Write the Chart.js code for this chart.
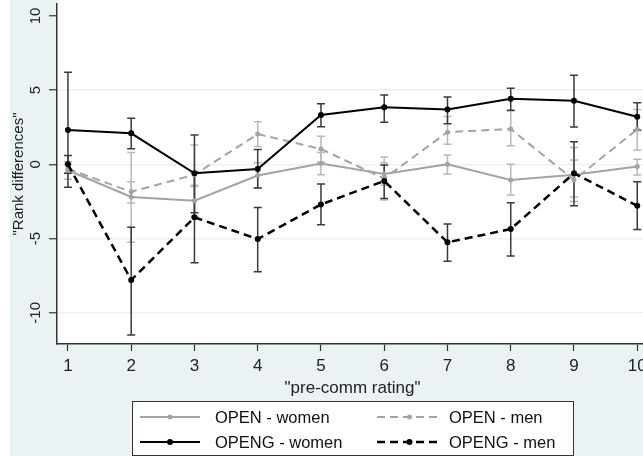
<!DOCTYPE html>
<html>
<head>
<meta charset="utf-8">
<script src="https://cdn.jsdelivr.net/npm/chart.js@4.4.1/dist/chart.umd.min.js"></script>
<style>
  html, body { margin: 0; padding: 0; background: #fff; overflow: hidden; }
  #wrap { position: relative; width: 643px; height: 456px; overflow: hidden; }
  canvas { position: absolute; left: 0; top: 0; }
</style>
</head>
<body>
<div id="wrap"><canvas id="chart" width="652" height="456"></canvas></div>
<script>
// pre-comm rating categories
const ratings = [1, 2, 3, 4, 5, 6, 7, 8, 9, 10];
const yTickValues = [-10, -5, 0, 5, 10];

// OPEN - women
const openWomen   = [-0.4, -2.2, -2.45, -0.75, 0.05, -0.65, 0.0, -1.05, -0.7, -0.15];
const openWomenLo = [-1.0, -5.25, -3.5, -1.6, -0.7, -1.4, -0.67, -2.07, -2.2, -0.72];
const openWomenHi = [0.2, 0.8, -1.4, 0.1, 0.8, 0.1, 0.63, 0.0, 1.14, 0.34];

// OPEN - men
const openMen   = [-0.3, -1.85, -0.7, 2.04, 1.03, -0.95, 2.17, 2.38, -1.05, 2.36];
const openMenLo = [-0.6, -2.6, -1.5, 1.2, 0.15, -2.4, 1.35, 1.25, -2.5, 0.96];
const openMenHi = [0.0, -1.17, 1.3, 2.87, 1.9, 0.5, 3.23, 3.59, 0.3, 3.7];

// OPENG - women
const opengWomen   = [2.31, 2.09, -0.6, -0.32, 3.32, 3.84, 3.7, 4.42, 4.28, 3.2];
const opengWomenLo = [-1.55, 1.05, -3.26, -1.6, 2.53, 2.83, 2.73, 3.64, 2.51, 2.3];
const opengWomenHi = [6.2, 3.1, 1.97, 1.0, 4.08, 4.67, 4.53, 5.12, 6.0, 4.15];

// OPENG - men
const opengMen   = [0.0, -7.79, -3.57, -5.03, -2.7, -1.12, -5.25, -4.36, -0.6, -2.79];
const opengMenLo = [-0.6, -11.5, -6.63, -7.23, -4.07, -2.3, -6.53, -6.18, -2.79, -4.38];
const opengMenHi = [0.6, -4.24, -0.5, -2.9, -1.33, -0.05, -4.02, -2.59, 1.52, -1.17];

const FONT = 'Liberation Sans, Arial, sans-serif';
const BG = '#eaf2f3';

function pts(vals) {
  return ratings.map((r, i) => ({ x: r, y: vals[i] }));
}

function series(label, vals, lo, hi, color, errColor, dash, width, radius, order) {
  return {
    label: label,
    data: pts(vals),
    errLo: lo,
    errHi: hi,
    errColor: errColor,
    borderColor: color,
    backgroundColor: color,
    pointBackgroundColor: color,
    pointBorderColor: color,
    pointRadius: radius,
    pointBorderWidth: 0,
    borderWidth: width,
    borderDash: dash,
    tension: 0,
    fill: false,
    order: order
  };
}

const bgPlugin = {
  id: 'bg',
  beforeDraw(chart) {
    const { ctx, chartArea } = chart;
    ctx.save();
    ctx.fillStyle = '#ffffff';
    ctx.fillRect(0, 0, chart.width, chart.height);
    ctx.fillStyle = BG;
    ctx.fillRect(10, 0, chart.width - 10, chart.height);
    ctx.fillStyle = '#ffffff';
    ctx.fillRect(chartArea.left, 0, chartArea.right - chartArea.left, chartArea.bottom);
    ctx.restore();
  }
};

const errorBars = {
  id: 'errorBars',
  beforeDatasetsDraw(chart) {
    const { ctx, scales: { x, y } } = chart;
    const list = chart.data.datasets.slice().sort((a, b) => b.order - a.order);
    ctx.save();
    list.forEach(ds => {
      ctx.strokeStyle = ds.errColor;
      ctx.lineWidth = 1.5;
      ctx.setLineDash([]);
      ds.data.forEach((p, i) => {
        const px = x.getPixelForValue(p.x);
        const y1 = y.getPixelForValue(ds.errLo[i]);
        const y2 = y.getPixelForValue(ds.errHi[i]);
        ctx.beginPath();
        ctx.moveTo(px, y1); ctx.lineTo(px, y2);
        ctx.moveTo(px - 4, y1); ctx.lineTo(px + 4, y1);
        ctx.moveTo(px - 4, y2); ctx.lineTo(px + 4, y2);
        ctx.stroke();
      });
    });
    ctx.restore();
  }
};

const yLabels = {
  id: 'yLabels',
  afterDraw(chart) {
    const { ctx, scales: { y } } = chart;
    ctx.save();
    ctx.fillStyle = '#222';
    ctx.font = '15px ' + FONT;
    ctx.textAlign = 'center';
    ctx.textBaseline = 'middle';
    y.ticks.forEach(t => {
      const py = y.getPixelForValue(t.value);
      ctx.save();
      ctx.translate(36, py);
      ctx.rotate(-Math.PI / 2);
      ctx.fillText(String(t.value), 0, 0);
      ctx.restore();
    });
    ctx.restore();
  }
};

const boxLegend = {
  id: 'boxLegend',
  afterDraw(chart) {
    const { ctx } = chart;
    const ds = chart.data.datasets;
    ctx.save();
    ctx.fillStyle = '#fff';
    ctx.fillRect(132.5, 401.5, 441, 54);
    ctx.strokeStyle = '#333';
    ctx.lineWidth = 1;
    ctx.strokeRect(132.5, 401.5, 441, 54);

    const cols = [{ x0: 140, x1: 200, tx: 215 }, { x0: 377, x1: 442, tx: 449 }];
    const rows = [417, 442];
    ds.forEach((d, i) => {
      const c = cols[i % 2];
      const ry = rows[Math.floor(i / 2)];
      ctx.strokeStyle = d.borderColor;
      ctx.lineWidth = d.borderWidth;
      ctx.setLineDash(d.borderDash);
      ctx.beginPath();
      ctx.moveTo(c.x0, ry); ctx.lineTo(c.x1, ry);
      ctx.stroke();
      ctx.setLineDash([]);
      ctx.fillStyle = d.borderColor;
      ctx.beginPath();
      ctx.arc((c.x0 + c.x1) / 2, ry, d.pointRadius, 0, Math.PI * 2);
      ctx.fill();
      ctx.fillStyle = '#111';
      ctx.font = '16.5px ' + FONT;
      ctx.textAlign = 'left';
      ctx.textBaseline = 'middle';
      ctx.fillText(d.label, c.tx, ry + 1);
    });
    ctx.restore();
  }
};

const datasets = [
  series('OPEN - women', openWomen, openWomenLo, openWomenHi, '#a3a3a3', '#b8b8b8', [], 2, 2.5, 3),
  series('OPEN - men', openMen, openMenLo, openMenHi, '#a3a3a3', '#b8b8b8', [8, 5], 2, 2.5, 2),
  series('OPENG - women', opengWomen, opengWomenLo, opengWomenHi, '#000000', '#3a3a3a', [], 2, 3, 0),
  series('OPENG - men', opengMen, opengMenLo, opengMenHi, '#000000', '#3a3a3a', [8, 5], 2.5, 3, 1)
];

const ctx = document.getElementById('chart').getContext('2d');
new Chart(ctx, {
  type: 'line',
  data: { datasets: datasets },
  options: {
    responsive: false,
    animation: false,
    events: [],
    layout: { padding: { left: 10, top: 4, right: 1, bottom: 57 } },
    plugins: {
      legend: { display: false },
      tooltip: { enabled: false }
    },
    scales: {
      x: {
        type: 'linear',
        min: 0.827,
        max: 10.17,
        afterBuildTicks: s => { s.ticks = ratings.map(v => ({ value: v })); },
        afterFit: s => { s.height = 55; },
        grid: { drawOnChartArea: false, tickLength: 7, tickColor: '#333', tickWidth: 1.2 },
        border: { color: '#333', width: 1.5 },
        ticks: { color: '#222', font: { family: FONT, size: 17 }, padding: 5, maxRotation: 0 },
        title: {
          display: true,
          text: '"pre-comm rating"',
          color: '#222',
          font: { family: FONT, size: 17 },
          padding: { top: 0, bottom: 0 }
        }
      },
      y: {
        type: 'linear',
        min: -12.1,
        max: 10.8,
        afterBuildTicks: s => { s.ticks = yTickValues.map(v => ({ value: v })); },
        afterFit: s => { s.width = 47; },
        grid: {
          color: c => (c.tick && c.tick.value === 10) ? 'rgba(0,0,0,0)' : BG,
          lineWidth: 1.5,
          tickLength: 8,
          tickColor: '#333',
          tickWidth: 1.2
        },
        border: { color: '#333', width: 1.5 },
        ticks: { display: false },
        title: {
          display: true,
          text: '"Rank differences"',
          color: '#222',
          font: { family: FONT, size: 15 },
          padding: { top: 0, bottom: 0 }
        }
      }
    }
  },
  plugins: [bgPlugin, errorBars, yLabels, boxLegend]
});
</script>
</body>
</html>
